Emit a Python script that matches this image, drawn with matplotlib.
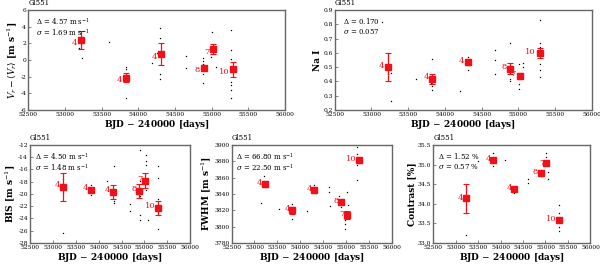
import matplotlib
matplotlib.use("Agg")
import matplotlib.pyplot as plt

plt.rcParams['font.family'] = 'DejaVu Serif'
plt.rcParams['mathtext.fontset'] = 'dejavuserif'

# group epochs (BJD - 2400000) and number of nights per group
epochs = [53220, 53830, 54310, 54890, 55020, 55290]
nights = ["4", "4", "4", "8", "7", "10"]

# radial velocity
rv_mean = [2.4, -2.1, 0.7, -0.9, 1.3, -1.1]
rv_err = [1.05, 0.55, 1.3, 0.35, 0.6, 0.9]
rv_dot_x = [53240, 53190, 53240, 53597, 53830, 53830, 53830, 53815, 54183, 54300, 54300, 54300, 54300,
            54260, 54644, 54644, 54880, 54880, 54880, 54880, 54880, 55000, 54990, 55060, 55270, 55270,
            55270, 55270, 55270, 55270, 55270]
rv_dot_y = [2.1, 1.4, 0.3, 2.2, -0.8, -1.1, -4.5, -1.9, -0.3, 3.8, 2.7, -1.7, -2.3, 0.8, 0.5, -0.9,
            0.2, -0.1, -0.5, -1.7, -2.7, 3.4, 0.4, -0.8, 3.6, 1.2, 0.1, -3.0, -3.6, -4.5, -2.6]

# Na I index
na_mean = [0.50, 0.42, 0.535, 0.49, 0.44, 0.60]
na_err = [0.10, 0.035, 0.02, 0.037, 0.02, 0.035]
na_dot_x = [53150, 53220, 53260, 53260, 53609, 53830, 53830, 53830, 53810, 54209, 54320, 54320, 54320,
            54681, 54690, 54690, 54890, 54890, 54890, 54890, 55010, 55010, 55010, 55060, 55060,
            55290, 55290, 55290, 55290, 55290, 55290]
na_dot_y = [0.82, 0.45, 0.46, 0.26, 0.42, 0.56, 0.37, 0.34, 0.39, 0.33, 0.57, 0.52, 0.48,
            0.62, 0.55, 0.45, 0.67, 0.46, 0.42, 0.40, 0.52, 0.38, 0.35, 0.53, 0.50,
            0.83, 0.67, 0.64, 0.52, 0.48, 0.43]

# bisector span
bis_mean = [-18.9, -19.3, -19.7, -19.5, -17.8, -22.3]
bis_err = [2.3, 0.3, 1.2, 1.1, 1.3, 1.2]
bis_dot_x = [53230, 53230, 53230, 53830, 53830, 54191, 54340, 54340, 54340, 54688, 54688,
             54900, 54900, 54900, 54900, 54900, 55040, 55040, 55040, 55040, 55080,
             55300, 55300, 55300, 55300, 55300]
bis_dot_y = [-17.6, -19.8, -26.4, -18.6, -20.1, -17.9, -15.4, -21.2, -21.5, -21.7, -22.7,
             -12.9, -17.9, -20.4, -23.5, -24.3, -13.6, -14.6, -15.2, -19.3, -24.2,
             -15.4, -17.4, -20.9, -22.8, -25.8]

# FWHM
fwhm_mean = [3852, 3820, 3845, 3830.4, 3814.6, 3881.7]
fwhm_err = [4, 4, 3, 3, 5, 4]
fwhm_dot_x = [53150, 53200, 53542, 53830, 53830, 53800, 54141, 54310, 54340, 54636, 54636, 54650,
              54850, 54890, 54890, 54980, 54980, 54980, 55030, 55050, 55250, 55250, 55250, 55250]
fwhm_dot_y = [3829, 3862, 3821, 3828, 3809, 3823, 3818.6, 3851, 3841, 3848, 3843, 3825.5,
              3837, 3824, 3829, 3808.5, 3803.6, 3797, 3842, 3827, 3897, 3889, 3875.6, 3857]

# contrast
con_mean = [34.14, 35.12, 34.38, 34.78, 35.03, 33.58]
con_err = [0.37, 0.05, 0.04, 0.04, 0.05, 0.04]
con_dot_x = [53220, 53490, 53830, 53840, 54090, 54310, 54310, 54600, 54600, 54890, 54910,
             55020, 55020, 55060, 55060, 55300, 55300, 55300, 55300]
con_dot_y = [33.21, 35.1, 35.3, 34.97, 35.12, 34.44, 34.27, 34.63, 34.54, 34.7, 34.85,
             35.29, 35.19, 34.82, 34.63, 33.97, 33.76, 33.42, 33.3]

xticks = [52500, 53000, 53500, 54000, 54500, 55000, 55500, 56000]

fig = plt.figure(figsize=(6, 2.67), dpi=100)


def panel(rect, mean, err, dx, dy, ylabel, yticks, ytlabels, stats, numoff):
    ax = fig.add_axes(rect)
    ax.plot(dx, dy, 'o', color='black', ms=1.0, mec='none')
    ax.errorbar(epochs, mean, yerr=err, fmt='s', color='#f01018', ms=5.0,
                elinewidth=0.9, capsize=2.0, capthick=0.8, zorder=3)
    for x, y, n in zip(epochs, mean, nights):
        ax.text(x - 50, y + numoff, n, color='#f01018', fontsize=6, ha='right', va='center')
    ax.set_xlim(xticks[0], xticks[-1])
    ax.set_xticks(xticks)
    ax.set_yticks(yticks)
    ax.set_yticklabels(ytlabels)
    ax.set_ylim(yticks[0], yticks[-1])
    ax.tick_params(direction='in', labelsize=4.3, length=2.5, width=0.5, pad=1.5, color='#555555')
    for s in ax.spines.values():
        s.set_color('#666666')
        s.set_linewidth(1.0)
    ax.set_xlabel('BJD $-$ 240000 [days]', fontsize=6.5, labelpad=1, fontweight='bold')
    ax.set_ylabel(ylabel, fontsize=6.5, labelpad=1, fontweight='bold')
    ax.text(0.0, 1.03, 'Gl551', transform=ax.transAxes, fontsize=5, ha='left', va='bottom')
    ax.text(0.03, 0.94, stats[0], transform=ax.transAxes, fontsize=5, va='top')
    ax.text(0.03, 0.83, stats[1], transform=ax.transAxes, fontsize=5, va='top')
    return ax


panel([0.047, 0.588, 0.428, 0.374], rv_mean, rv_err, rv_dot_x, rv_dot_y,
      r'$V_r - \langle V_r\rangle$ [m s$^{-1}$]', [-6, -4, -2, 0, 2, 4, 6],
      ['-6', '-4', '-2', '0', '2', '4', '6'],
      [r'$\Delta$ = 4.57 m s$^{-1}$', r'$\sigma$ = 1.69 m s$^{-1}$'], -0.35)

panel([0.558, 0.588, 0.428, 0.374], na_mean, na_err, na_dot_x, na_dot_y,
      'Na I', [0.2, 0.3, 0.4, 0.5, 0.6, 0.7, 0.8, 0.9],
      ['0.2', '0.3', '0.4', '0.5', '0.6', '0.7', '0.8', '0.9'],
      [r'$\Delta$ = 0.170', r'$\sigma$ = 0.057'], 0.01)

panel([0.05, 0.09, 0.267, 0.367], bis_mean, bis_err, bis_dot_x, bis_dot_y,
      'BIS [m s$^{-1}$]', [-28, -26, -24, -22, -20, -18, -16, -14, -12],
      ['-28', '-26', '-24', '-22', '-20', '-18', '-16', '-14', '-12'],
      [r'$\Delta$ = 4.50 m s$^{-1}$', r'$\sigma$ = 1.48 m s$^{-1}$'], 0.3)

panel([0.386, 0.09, 0.267, 0.367], fwhm_mean, fwhm_err, fwhm_dot_x, fwhm_dot_y,
      'FWHM [m s$^{-1}$]', [3780, 3800, 3820, 3840, 3860, 3880, 3900],
      ['3780', '3800', '3820', '3840', '3860', '3880', '3900'],
      [r'$\Delta$ = 66.80 m s$^{-1}$', r'$\sigma$ = 22.50 m s$^{-1}$'], 1.0)

panel([0.722, 0.09, 0.262, 0.367], con_mean, con_err, con_dot_x, con_dot_y,
      'Contrast [%]', [33.0, 33.5, 34.0, 34.5, 35.0, 35.5],
      ['33.0', '33.5', '34.0', '34.5', '35.0', '35.5'],
      [r'$\Delta$ = 1.52 %', r'$\sigma$ = 0.57 %'], 0.02)

fig.savefig('out.png', dpi=100)
